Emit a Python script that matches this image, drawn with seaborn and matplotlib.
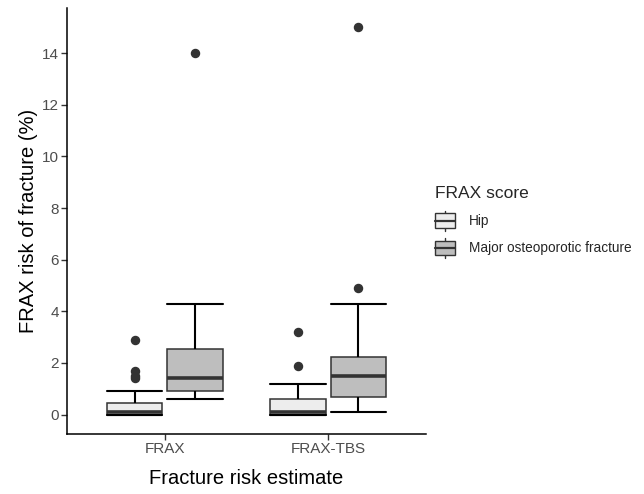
import matplotlib.pyplot as plt
import pandas as pd
import seaborn as sns
from matplotlib.legend_handler import HandlerBase
from matplotlib.lines import Line2D
from matplotlib.patches import Rectangle

# ---------------------------------------------------------------------------
# Données (valeurs individuelles, % de risque)
# ---------------------------------------------------------------------------
ESTIMATES = ["FRAX", "FRAX-TBS"]
SCORES = ["Hip", "Major osteoporotic fracture"]

HIP_FRAX = [0.0, 0.0, 0.0, 0.0, 0.0, 0.0, 0.1, 0.1, 0.1, 0.1, 0.1,
            0.2, 0.2, 0.3, 0.4, 0.45, 0.9, 1.4, 1.5, 1.7, 2.9]
MOF_FRAX = [0.6, 0.7, 0.8, 0.8, 0.85, 0.9, 1.0, 1.1, 1.2, 1.3, 1.4,
            1.5, 1.7, 1.9, 2.2, 2.55, 2.9, 3.3, 3.8, 4.3, 14.0]
HIP_TBS = [0.0, 0.0, 0.0, 0.0, 0.0, 0.0, 0.1, 0.1, 0.1, 0.1, 0.1,
           0.2, 0.3, 0.4, 0.5, 0.6, 0.7, 0.9, 1.2, 1.9, 3.2]
MOF_TBS = [0.1, 0.3, 0.5, 0.6, 0.65, 0.7, 0.8, 1.0, 1.2, 1.3, 1.5,
           1.6, 1.8, 2.0, 2.1, 2.25, 2.7, 3.2, 4.3, 4.9, 15.0]

Y_TICKS = [0, 2, 4, 6, 8, 10, 12, 14]

FILL = {"Hip": "#EDEDED", "Major osteoporotic fracture": "#BEBEBE"}
EDGE = "#333333"
BOX_WIDTH = 0.744
BOX_GAP = 0.083

rows = []
for est, score, vals in [
    ("FRAX", "Hip", HIP_FRAX),
    ("FRAX", "Major osteoporotic fracture", MOF_FRAX),
    ("FRAX-TBS", "Hip", HIP_TBS),
    ("FRAX-TBS", "Major osteoporotic fracture", MOF_TBS),
]:
    for v in vals:
        rows.append({"estimate": est, "score": score, "risk": v})
df = pd.DataFrame(rows)

sns.set_theme(style="ticks")
plt.rcParams["font.family"] = ["Liberation Sans", "DejaVu Sans"]


class BoxKeyHandler(HandlerBase):
    """Clé de légende façon ggplot : mini boîte à moustaches."""

    def create_artists(self, legend, orig_handle, xdescent, ydescent,
                       width, height, fontsize, trans):
        x0, y0 = -xdescent, -ydescent
        cx = x0 + width / 2
        stub = Line2D([cx, cx], [y0 - 0.2 * height, y0 + 1.2 * height],
                      color=EDGE, lw=1.0, transform=trans)
        box = Rectangle((x0, y0), width, height,
                        facecolor=orig_handle.get_facecolor(),
                        edgecolor=EDGE, lw=1.0, transform=trans)
        med = Line2D([x0, x0 + width], [y0 + height / 2] * 2,
                     color=EDGE, lw=1.6, transform=trans)
        return [stub, box, med]


fig = plt.figure(figsize=(6.44, 4.94), dpi=100)
ax = fig.add_axes([67 / 644, 60 / 494, 359 / 644, 426 / 494])

sns.boxplot(
    data=df, x="estimate", y="risk", hue="score",
    order=ESTIMATES, hue_order=SCORES, palette=FILL, saturation=1,
    width=BOX_WIDTH, gap=BOX_GAP, whis=1.5, legend=False,
    linecolor=EDGE, linewidth=1.1,
    whiskerprops=dict(color="black", linewidth=1.5),
    capprops=dict(color="black", linewidth=1.5),
    medianprops=dict(color=EDGE, linewidth=2.6),
    flierprops=dict(marker="o", markersize=5.8, markerfacecolor=EDGE,
                    markeredgecolor=EDGE),
    ax=ax,
)

# chapeaux des moustaches sur toute la largeur de la boîte (errorbar ggplot)
half = BOX_WIDTH / 2 * (1 - BOX_GAP) / 2
for line in ax.lines:
    x = list(line.get_xdata())
    y = list(line.get_ydata())
    if len(x) == 2 and y[0] == y[1] and line.get_color() == "black":
        c = (x[0] + x[1]) / 2
        line.set_xdata([c - half, c + half])

ax.set_xlim(-0.6, 1.6)
ax.set_ylim(-0.75, 15.75)
ax.set_yticks(Y_TICKS)
ax.set_xlabel("Fracture risk estimate", fontsize=14.5, color="black", labelpad=9)
ax.set_ylabel("FRAX risk of fracture (%)", fontsize=14.5, color="black", labelpad=3)
ax.tick_params(axis="both", labelsize=11, labelcolor="#4D4D4D", color="#333333",
               length=4, width=1, pad=2)
for side in ["left", "bottom"]:
    ax.spines[side].set_color("black")
    ax.spines[side].set_linewidth(1.1)
sns.despine(ax=ax)

handles = [Rectangle((0, 0), 1, 1, facecolor=FILL[s]) for s in SCORES]
leg = fig.legend(
    handles, SCORES, title="FRAX score", loc="upper left",
    bbox_to_anchor=(423 / 644, 1 - 174 / 494), frameon=False,
    fontsize=9.8, title_fontsize=12.5, handlelength=1.45, handleheight=1.25,
    handletextpad=1.05, labelspacing=0.9, alignment="left",
    handler_map={Rectangle: BoxKeyHandler()},
)

fig.savefig("out.png", dpi=100)
